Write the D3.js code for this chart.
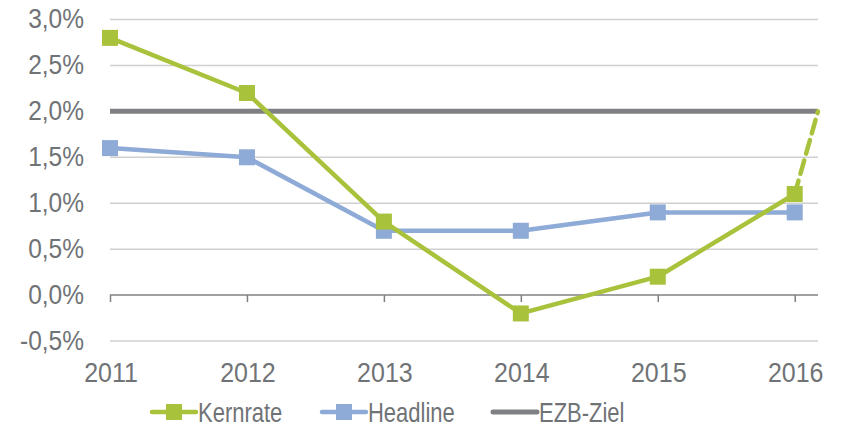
<!DOCTYPE html>
<html lang="de">
<head>
<meta charset="UTF-8">
<script src="https://d3js.org/d3.v7.min.js"></script>
<style>
  body { margin: 0; background: #fff; }
  text { font-family: "Liberation Sans", Arial, sans-serif; fill: #707376; }
</style>
</head>
<body>
<svg id="mainsvg" width="848" height="429"></svg>
<script>
const years = [2011, 2012, 2013, 2014, 2015, 2016];
const kernrate = [2.8, 2.2, 0.8, -0.2, 0.2, 1.1];
const headline = [1.6, 1.5, 0.7, 0.7, 0.9, 0.9];
const ezbZiel = 2.0;
const kernrateAusblick = [[2016, 1.1], [2016.17, 2.0]];
const yTicks = [-0.5, 0, 0.5, 1.0, 1.5, 2.0, 2.5, 3.0];

const green = '#a8c23c';
const blue = '#8eaad6';
const gray = '#7f8083';

const svg = d3.select('#mainsvg');
const margin = { top: 19.5, left: 110, right: 30, bottom: 88 };
const width = +svg.attr('width');
const height = +svg.attr('height');

const x = d3.scaleLinear().domain([2011, 2016.17]).range([margin.left, width - margin.right]);
const y = d3.scaleLinear().domain([-0.5, 3.0]).range([height - margin.bottom, margin.top]);

const fmt = v => d3.format('.1f')(v).replace('.', ',').replace('−', '-') + '%';

// gridlines
svg.append('g').selectAll('line').data(yTicks.filter(d => d !== 0)).enter().append('line')
  .attr('x1', x.range()[0]).attr('x2', x.range()[1])
  .attr('y1', d => y(d)).attr('y2', d => y(d))
  .attr('stroke', '#d0d0d0').attr('stroke-width', 1.5);

// y labels (text in the picture is a bit stretched vertically)
svg.append('g').selectAll('text').data(yTicks).enter().append('text')
  .attr('transform', d => `translate(84,${y(d) + 8.5}) scale(1,1.14)`)
  .attr('text-anchor', 'end').attr('font-size', 24.5)
  .text(fmt);

// x axis at 0
const xAxis = d3.axisBottom(x).tickValues(years).tickSize(7).tickFormat('');
const ax = svg.append('g').attr('transform', `translate(0,${y(0)})`).call(xAxis);
ax.select('.domain').attr('stroke', gray).attr('stroke-width', 1.5).attr('d', `M${x.range()[0]},0H${x.range()[1]}`);
ax.selectAll('.tick line').attr('stroke', gray).attr('stroke-width', 1.5);

// x labels
svg.append('g').selectAll('text').data(years).enter().append('text')
  .attr('transform', d => `translate(${x(d) + 1},382) scale(1,1.14)`)
  .attr('text-anchor', 'middle').attr('font-size', 25)
  .text(d => d);

// EZB target
svg.append('line')
  .attr('x1', x.range()[0]).attr('x2', x.range()[1])
  .attr('y1', y(ezbZiel)).attr('y2', y(ezbZiel))
  .attr('stroke', gray).attr('stroke-width', 5);

const line = d3.line().x(d => x(d[0])).y(d => y(d[1]));

function series(vals, color) {
  const pts = years.map((yr, i) => [yr, vals[i]]);
  svg.append('path').datum(pts).attr('d', line)
    .attr('fill', 'none').attr('stroke', color).attr('stroke-width', 4.5)
    .attr('stroke-linejoin', 'round');
  svg.append('g').selectAll('rect').data(pts).enter().append('rect')
    .attr('x', d => x(d[0]) - 8).attr('y', d => y(d[1]) - 8)
    .attr('width', 16).attr('height', 16).attr('fill', color);
}

svg.append('path').datum(kernrateAusblick).attr('d', line)
  .attr('fill', 'none').attr('stroke', green).attr('stroke-width', 4.5)
  .attr('stroke-dasharray', '14,7').attr('stroke-linecap', 'round');

series(headline, blue);
series(kernrate, green);

// legend
const legend = [
  { name: 'Kernrate', color: green, marker: true, x: 152 },
  { name: 'Headline', color: blue, marker: true, x: 322 },
  { name: 'EZB-Ziel', color: gray, marker: false, x: 493 }
];
const lg = svg.append('g').selectAll('g').data(legend).enter().append('g')
  .attr('transform', d => `translate(${d.x},412)`);
lg.append('line').attr('x1', 0).attr('x2', 44).attr('y1', 0).attr('y2', 0)
  .attr('stroke', d => d.color).attr('stroke-width', d => d.marker ? 4.5 : 5)
  .attr('stroke-linecap', 'round');
lg.filter(d => d.marker).append('rect')
  .attr('x', 14).attr('y', -8).attr('width', 16).attr('height', 16)
  .attr('fill', d => d.color);
lg.append('text').attr('transform', 'translate(46,9.5) scale(1,1.22)')
  .attr('font-size', 22).text(d => d.name);
</script>
</body>
</html>
